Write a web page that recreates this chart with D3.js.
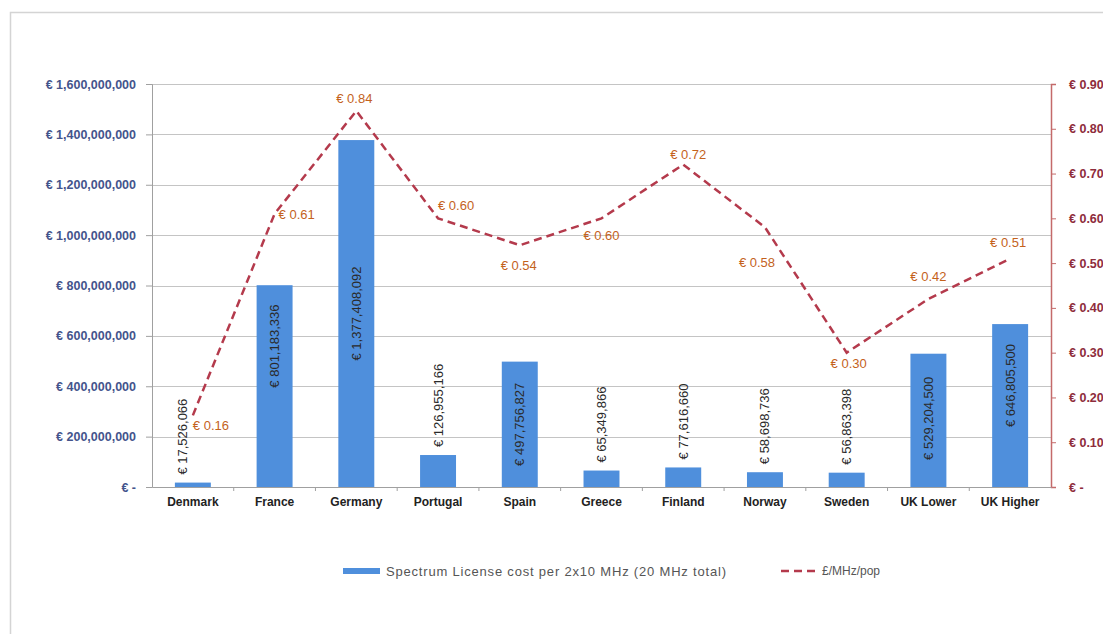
<!DOCTYPE html>
<html>
<head>
<meta charset="utf-8">
<script src="https://cdn.jsdelivr.net/npm/d3@7"></script>
<style>
  html, body { margin: 0; padding: 0; background: #fff; }
  svg { display: block; font-family: "Liberation Sans", Arial, sans-serif; }
</style>
</head>
<body>
<svg id="chart" width="1103" height="634"></svg>
<script>
// ---- data ----
const categories = ["Denmark", "France", "Germany", "Portugal", "Spain", "Greece", "Finland", "Norway", "Sweden", "UK Lower", "UK Higher"];
const licenseCost = [17526066, 801183336, 1377408092, 126955166, 497756827, 65349866, 77616660, 58698736, 56863398, 529204500, 646805500];
const costPerMHzPop = [0.16, 0.61, 0.84, 0.60, 0.54, 0.60, 0.72, 0.58, 0.30, 0.42, 0.51];
const leftTicks = [0, 200000000, 400000000, 600000000, 800000000, 1000000000, 1200000000, 1400000000, 1600000000];
const rightTicks = [0, 0.1, 0.2, 0.3, 0.4, 0.5, 0.6, 0.7, 0.8, 0.9];
const seriesNames = ["Spectrum License cost per 2x10 MHz (20 MHz total)", "£/MHz/pop"];

// label placement (layout only)
const lineLabelPlacement = [
  {anchor: "start", dx: 0, dy: 10},
  {anchor: "start", dx: 4, dy: 1},
  {anchor: "middle", dx: -2, dy: -12},
  {anchor: "start", dx: 0, dy: -13},
  {anchor: "middle", dx: -1, dy: 20},
  {anchor: "middle", dx: 0, dy: 17},
  {anchor: "middle", dx: 5, dy: -10},
  {anchor: "middle", dx: -8, dy: 35},
  {anchor: "middle", dx: 2, dy: 11},
  {anchor: "middle", dx: 0, dy: -22},
  {anchor: "middle", dx: -2, dy: -16}
];
const barLabelShift = [
  {dx: -10, dy: 0}, {dx: 0, dy: -40}, {dx: 0, dy: 0}, {dx: 0, dy: 0}, {dx: 0, dy: 0}, {dx: 0, dy: 0},
  {dx: 0, dy: 0}, {dx: 0, dy: 0}, {dx: 0, dy: 0}, {dx: 0, dy: -2}, {dx: 0, dy: -20}
];

const svg = d3.select("#chart");
const L = 152, R = 1051, T = 84, B = 487;

// frame
svg.append("path").attr("d", `M10.5,634 V12.5 H1103`).attr("fill", "none").attr("stroke", "#d4d4d4").attr("stroke-width", 1.5);

const x = d3.scaleBand().domain(categories).range([L, R]).paddingInner(0.56).paddingOuter(0.28);
const y = d3.scaleLinear().domain([0, 1600000000]).range([B, T]);
const yR = d3.scaleLinear().domain([0, 0.9]).range([B, T]);

// gridlines
svg.append("g").selectAll("line").data(leftTicks.filter(d => d > 0)).join("line")
  .attr("x1", L).attr("x2", R)
  .attr("y1", d => Math.round(y(d)) + 0.5).attr("y2", d => Math.round(y(d)) + 0.5)
  .attr("stroke", "#c4c4c4").attr("stroke-width", 1);

// left axis
const fmtLeft = d => d === 0 ? "€ -" : "€ " + d3.format(",")(d);
const gl = svg.append("g").attr("transform", `translate(${L},0)`)
  .call(d3.axisLeft(y).tickValues(leftTicks).tickFormat(fmtLeft).tickSizeOuter(0).tickSize(6).tickPadding(10));
gl.select(".domain").attr("stroke", "#a0a0a0");
gl.selectAll(".tick line").attr("stroke", "#a0a0a0");
gl.selectAll(".tick text").attr("fill", "#44548c").attr("font-size", 12.5).attr("font-weight", "bold")
  .attr("font-family", "'Liberation Sans', Arial, sans-serif");

// right axis
const fmtRight = d => d === 0 ? "€ -" : "€ " + d3.format(".2f")(d);
const gr = svg.append("g").attr("transform", `translate(${R},0)`)
  .call(d3.axisRight(yR).tickValues(rightTicks).tickFormat(fmtRight).tickSizeOuter(0).tickSize(5).tickPadding(13));
gr.select(".domain").attr("stroke", "#c46a6a").attr("stroke-width", 1.5);
gr.selectAll(".tick line").attr("stroke", "#c46a6a");
gr.selectAll(".tick text").attr("fill", "#8e2c3c").attr("font-size", 12.5).attr("font-weight", "bold")
  .attr("font-family", "'Liberation Sans', Arial, sans-serif");

// x axis
const gx = svg.append("g").attr("transform", `translate(0,${B})`)
  .call(d3.axisBottom(x).tickSize(0).tickPadding(10).tickSizeOuter(0));
gx.select(".domain").attr("stroke", "#a0a0a0");
gx.selectAll(".tick text").attr("fill", "#222").attr("font-size", 12).attr("font-weight", "bold")
  .attr("font-family", "'Liberation Sans', Arial, sans-serif");
const step = x.step();
svg.append("g").selectAll("line").data(categories.slice(1)).join("line")
  .attr("x1", d => x(d) - step * x.paddingInner() / 2).attr("x2", d => x(d) - step * x.paddingInner() / 2)
  .attr("y1", B).attr("y2", B + 4).attr("stroke", "#a0a0a0");

// bars
const data = categories.map((c, i) => ({c, v: licenseCost[i], r: costPerMHzPop[i], p: lineLabelPlacement[i], s: barLabelShift[i]}));
svg.append("g").selectAll("rect").data(data).join("rect")
  .attr("x", d => x(d.c)).attr("width", x.bandwidth())
  .attr("y", d => y(d.v)).attr("height", d => B - y(d.v))
  .attr("fill", "#4f8fdc");

// bar labels (rotated)
const fmtBar = d => "€ " + d3.format(",")(d);
svg.append("g").selectAll("text").data(data).join("text")
  .attr("transform", d => {
    const cx = x(d.c) + x.bandwidth() / 2 + d.s.dx;
    const inside = d.v > 400000000;
    const cy = (inside ? (y(d.v) + B) / 2 : y(d.v) - 8) + d.s.dy;
    return `translate(${cx},${cy}) rotate(-90)`;
  })
  .attr("text-anchor", d => d.v > 400000000 ? "middle" : "start")
  .attr("dominant-baseline", "central")
  .attr("font-size", 13).attr("fill", "#2a2a2a")
  .text(d => fmtBar(d.v));

// line
const line = d3.line().x(d => x(d.c) + x.bandwidth() / 2).y(d => yR(d.r));
svg.append("path").datum(data).attr("d", line)
  .attr("fill", "none").attr("stroke", "#b43a4c").attr("stroke-width", 2.5)
  .attr("stroke-dasharray", "8,5");

// line labels
svg.append("g").selectAll("text").data(data).join("text")
  .attr("x", d => x(d.c) + x.bandwidth() / 2 + d.p.dx)
  .attr("y", d => yR(d.r) + d.p.dy)
  .attr("text-anchor", d => d.p.anchor)
  .attr("dominant-baseline", "central")
  .attr("font-size", 13).attr("fill", "#c4621c")
  .text(d => "€ " + d3.format(".2f")(d.r));

// legend
const lg = svg.append("g");
lg.append("rect").attr("x", 343).attr("y", 568).attr("width", 37).attr("height", 6).attr("fill", "#4f8fdc");
lg.append("text").attr("x", 386).attr("y", 571).attr("dominant-baseline", "central")
  .attr("font-size", 13).attr("fill", "#555").attr("textLength", 340).attr("lengthAdjust", "spacing")
  .text(seriesNames[0]);
lg.append("line").attr("x1", 781).attr("x2", 818).attr("y1", 571).attr("y2", 571)
  .attr("stroke", "#b43a4c").attr("stroke-width", 2.5).attr("stroke-dasharray", "8,5");
lg.append("text").attr("x", 822).attr("y", 571).attr("dominant-baseline", "central")
  .attr("font-size", 12).attr("fill", "#555").text(seriesNames[1]);
</script>
</body>
</html>
